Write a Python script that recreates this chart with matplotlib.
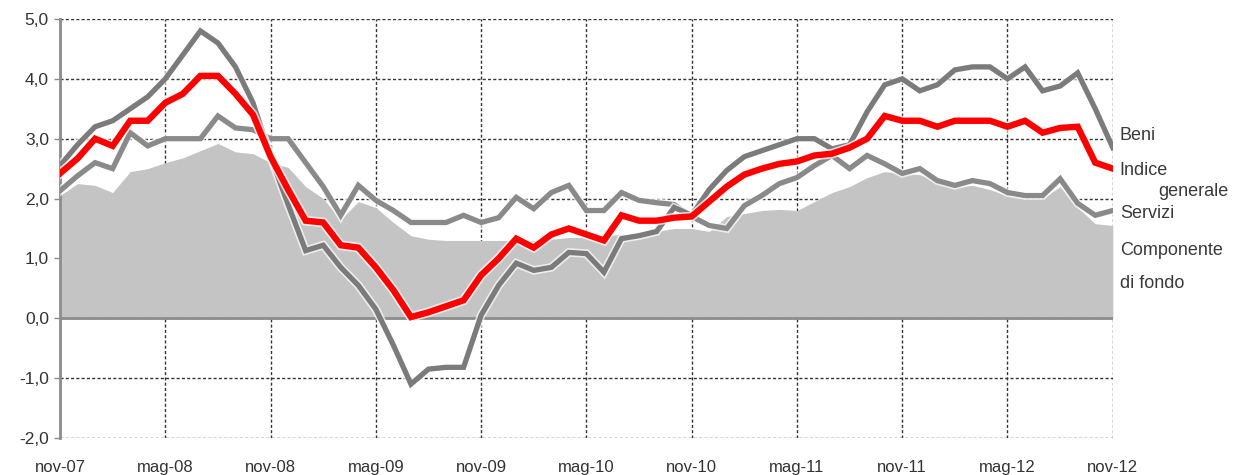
import matplotlib.pyplot as plt
import matplotlib.patheffects as pe
import numpy as np

# dati mensili nov-07 ... nov-12 (variazioni % sui 12 mesi)
beni = [2.55, 2.9, 3.2, 3.3, 3.5, 3.7, 4.0, 4.4, 4.8, 4.6,
        4.2, 3.6, 2.7, 1.9, 1.13, 1.22, 0.85, 0.55, 0.15, -0.45,
        -1.1, -0.85, -0.82, -0.82, 0.05, 0.55, 0.92, 0.8, 0.85, 1.1,
        1.08, 0.77, 1.33, 1.38, 1.45, 1.85, 1.72, 2.15, 2.47, 2.7,
        2.8, 2.9, 3.0, 3.0, 2.83, 2.9, 3.45, 3.9, 4.0, 3.8,
        3.9, 4.15, 4.2, 4.2, 4.0, 4.2, 3.8, 3.88, 4.1, 3.5, 2.85]
indice_generale = [2.42, 2.67, 3.0, 2.88, 3.3, 3.3, 3.6, 3.75, 4.05, 4.05,
                   3.75, 3.4, 2.7, 2.15, 1.63, 1.6, 1.22, 1.18, 0.85, 0.47,
                   0.02, 0.1, 0.2, 0.3, 0.72, 1.0, 1.33, 1.18, 1.4, 1.5,
                   1.4, 1.3, 1.72, 1.63, 1.63, 1.68, 1.7, 1.95, 2.2, 2.4,
                   2.5, 2.58, 2.62, 2.72, 2.75, 2.85, 3.0, 3.38, 3.3, 3.3,
                   3.2, 3.3, 3.3, 3.3, 3.2, 3.3, 3.1, 3.18, 3.2, 2.6, 2.5]
servizi = [2.13, 2.38, 2.6, 2.5, 3.1, 2.88, 3.0, 3.0, 3.0, 3.38,
           3.18, 3.15, 3.0, 3.0, 2.6, 2.2, 1.72, 2.22, 1.97, 1.8,
           1.6, 1.6, 1.6, 1.72, 1.6, 1.68, 2.02, 1.83, 2.1, 2.22,
           1.8, 1.8, 2.1, 1.97, 1.93, 1.9, 1.7, 1.55, 1.5, 1.88,
           2.05, 2.25, 2.35, 2.55, 2.72, 2.5, 2.72, 2.58, 2.42, 2.5,
           2.3, 2.22, 2.3, 2.25, 2.1, 2.05, 2.05, 2.33, 1.92, 1.72, 1.8]
componente_fondo = [2.05, 2.25, 2.22, 2.1, 2.45, 2.5, 2.6, 2.68, 2.8, 2.92,
                    2.78, 2.75, 2.6, 2.52, 2.2, 2.0, 1.65, 1.95, 1.85, 1.6,
                    1.38, 1.32, 1.3, 1.3, 1.3, 1.3, 1.3, 1.3, 1.32, 1.35,
                    1.35, 1.38, 1.4, 1.42, 1.45, 1.5, 1.5, 1.45, 1.7, 1.75,
                    1.8, 1.82, 1.8, 1.95, 2.1, 2.2, 2.35, 2.45, 2.42, 2.4,
                    2.3, 2.2, 2.22, 2.15, 2.05, 2.0, 2.0, 2.2, 1.85, 1.58, 1.55]
etichette_x = ['nov-07', 'mag-08', 'nov-08', 'mag-09', 'nov-09', 'mag-10',
               'nov-10', 'mag-11', 'nov-11', 'mag-12', 'nov-12']

plt.rcParams['font.family'] = ['Liberation Sans', 'DejaVu Sans']

x = np.arange(len(beni))

fig = plt.figure(figsize=(12.4, 4.75), dpi=100)
ax = fig.add_axes([0.0484, 0.078, 0.849, 0.882])

ax.fill_between(x, 0, componente_fondo, color='#c4c4c4', lw=0, zorder=2)
ax.axhline(0, color='#8c8c8c', lw=2, zorder=2.5)

halo = [pe.Stroke(linewidth=6.2, foreground='white', alpha=0.7), pe.Normal()]
halo_r = [pe.Stroke(linewidth=7, foreground='white', alpha=0.7), pe.Normal()]
ax.plot(x, servizi, color='#8a8a8a', lw=3.8, zorder=3, path_effects=halo,
        solid_joinstyle='miter')
ax.plot(x, beni, color='#7b7b7b', lw=3.8, zorder=4, path_effects=halo,
        solid_joinstyle='miter')
ax.plot(x, indice_generale, color='#ff0000', lw=4.6, zorder=5, path_effects=halo_r,
        solid_joinstyle='miter')

ax.set_xlim(0, len(beni) - 1)
ax.set_ylim(-2, 5)
ax.set_xticks(np.arange(0, len(beni), 6))
ax.set_xticklabels(etichette_x)
ax.set_yticks(np.arange(-2, 6, 1))
ax.set_yticklabels([f'{v:.1f}'.replace('.', ',') for v in np.arange(-2, 6, 1)])

ax.grid(True, color='#333333', linestyle=(0, (2.2, 1.6)), lw=1.0, zorder=1)
ax.set_axisbelow(True)
for s in ['top', 'right', 'bottom']:
    ax.spines[s].set_visible(False)
ax.spines['left'].set_color('#8c8c8c')
ax.spines['left'].set_linewidth(2)

ax.tick_params(axis='y', length=4, width=1, color='#8c8c8c', pad=4,
               labelsize=12.5, labelcolor='#333333')
ax.tick_params(axis='x', length=0, pad=16, labelsize=12, labelcolor='#333333')

# etichette delle serie a destra
kw = dict(fontsize=13, color='#3a3a3a', va='center', ha='left', clip_on=False)
ax.text(60.4, 3.05, 'Beni', **kw)
ax.text(60.4, 2.47, 'Indice', **kw)
ax.text(62.6, 2.12, 'generale', **kw)
ax.text(60.4, 1.75, 'Servizi', **kw)
ax.text(60.4, 1.13, 'Componente', **kw)
ax.text(60.4, 0.58, 'di fondo', **kw)

fig.savefig('out.png', dpi=100)
